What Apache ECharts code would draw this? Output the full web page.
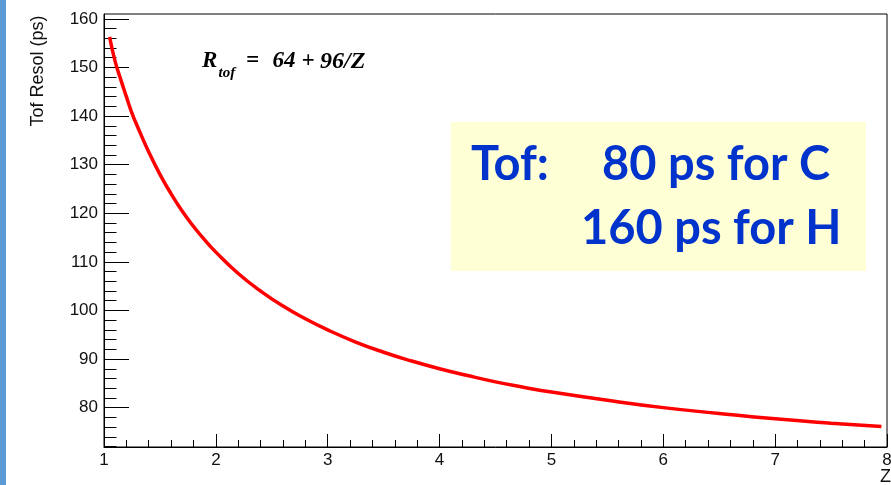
<!DOCTYPE html>
<html>
<head>
<meta charset="utf-8">
<script src="https://cdn.jsdelivr.net/npm/echarts@6/dist/echarts.min.js"></script>
<style>
html,body{margin:0;padding:0;background:#fff;}
#chart{width:891px;height:485px;}
</style>
</head>
<body>
<div id="chart"></div>
<script>
// Values
var zValues   = [1.05, 1.1, 1.15, 1.2, 1.25, 1.3, 1.4, 1.5, 1.6, 1.7, 1.8, 1.9, 2.0, 2.2, 2.4, 2.6, 2.8, 3.0, 3.25, 3.5, 3.75, 4.0, 4.25, 4.5, 4.75, 5.0, 5.5, 6.0, 6.5, 7.0, 7.5, 7.95];
var tofValues = [156.3, 151.2, 147.5, 144.0, 140.6, 137.8, 132.6, 128.0, 124.0, 120.4, 117.3, 114.5, 112.0, 107.6, 104.0, 100.9, 98.3, 96.0, 93.5, 91.4, 89.6, 88.0, 86.6, 85.3, 84.2, 83.2, 81.5, 80.0, 78.8, 77.7, 76.8, 76.1];
var yMajorTicks = [80, 90, 100, 110, 120, 130, 140, 150, 160];
var yMinorTicks = [72, 74, 76, 78, 82, 84, 86, 88, 92, 94, 96, 98, 102, 104, 106, 108, 112, 114, 116, 118, 122, 124, 126, 128, 132, 134, 136, 138, 142, 144, 146, 148, 152, 154, 156, 158];
var yRange = [71.9, 161];
var xRange = [1, 8];
var yTitle = 'Tof Resol (ps)';
var xTitle = 'Z';
var boxLine1a = 'Tof:';
var boxLine1b = '80 ps for C';
var boxLine2 = '160 ps for H';

var lineData = zValues.map(function (z, i) { return [z, tofValues[i]]; });

var chart = echarts.init(document.getElementById('chart'), null, {renderer: 'canvas'});
var sans = 'Liberation Sans, Arial, sans-serif';
var serif = 'Liberation Serif, Times New Roman, serif';
var blue = '#0033cc';

function formulaText(x, y, t, size) {
  return {type: 'text', x: x, y: y,
    style: {text: t, fontFamily: serif, fontSize: size, fontWeight: 'bold', fontStyle: 'italic', fill: '#000', align: 'left', verticalAlign: 'middle'}};
}

var option = {
  animation: false,
  backgroundColor: '#ffffff',
  grid: {
    left: 104, top: 14, width: 783, height: 433,
    show: true, borderColor: '#000', borderWidth: 1,
    containLabel: false, outerBoundsMode: 'none'
  },
  xAxis: {
    type: 'value', min: xRange[0], max: xRange[1], interval: 1,
    axisLine: {show: true, onZero: false, lineStyle: {color: '#000', width: 1}},
    axisTick: {show: true, inside: true, length: 13, lineStyle: {color: '#000', width: 1}},
    minorTick: {show: true, splitNumber: 5, length: 7, lineStyle: {color: '#000', width: 1}},
    axisLabel: {color: '#111', fontFamily: sans, fontSize: 17, margin: 5},
    splitLine: {show: false}, minorSplitLine: {show: false}
  },
  yAxis: [{
    type: 'value', min: yRange[0], max: yRange[1], position: 'left',
    axisLine: {show: true, onZero: false, lineStyle: {color: '#000', width: 1}},
    axisTick: {show: true, inside: true, length: 25, customValues: yMajorTicks, lineStyle: {color: '#000', width: 1}},
    axisLabel: {color: '#111', fontFamily: sans, fontSize: 17, margin: 6, customValues: yMajorTicks},
    splitLine: {show: false}
  }, {
    type: 'value', min: yRange[0], max: yRange[1], position: 'left', offset: 0,
    axisLine: {show: false},
    axisTick: {show: true, inside: true, length: 12.5, customValues: yMinorTicks, lineStyle: {color: '#000', width: 1}},
    axisLabel: {show: false},
    splitLine: {show: false}
  }],
  series: [{
    type: 'line', data: lineData, yAxisIndex: 0, smooth: true, showSymbol: false,
    lineStyle: {color: '#ff0000', width: 3.5}, z: 3
  }],
  graphic: [
    {type: 'rect', shape: {x: 0, y: 0, width: 6, height: 485}, style: {fill: '#5b9bd5'}, z: 10},
    {type: 'text', x: 38, y: 71, rotation: Math.PI / 2,
      style: {text: yTitle, fontFamily: sans, fontSize: 18, fill: '#111', align: 'center', verticalAlign: 'middle'}},
    {type: 'text', x: 891, y: 477,
      style: {text: xTitle, fontFamily: sans, fontSize: 18, fill: '#111', align: 'right', verticalAlign: 'middle'}},
    formulaText(202, 61.5, 'R', 23),
    formulaText(218.5, 73, 'tof', 15),
    formulaText(246, 61.5, '=', 23),
    formulaText(272.5, 61.5, '64', 23),
    formulaText(301.5, 61.5, '+', 23),
    formulaText(320, 61.5, '96/Z', 24),
    {type: 'rect', shape: {x: 451, y: 122, width: 415, height: 149}, style: {fill: '#ffffd5'}, z: 5},
    {type: 'text', x: 471, y: 165, z: 6,
      style: {text: boxLine1a, fontFamily: 'Lato, sans-serif', fontSize: 47, fontWeight: 'bold', fill: blue, align: 'left', verticalAlign: 'middle'}},
    {type: 'text', x: 602, y: 165, z: 6,
      style: {text: boxLine1b, fontFamily: 'Lato, sans-serif', fontSize: 47, fontWeight: 'bold', fill: blue, align: 'left', verticalAlign: 'middle'}},
    {type: 'text', x: 581, y: 228.5, z: 6,
      style: {text: boxLine2, fontFamily: 'Lato, sans-serif', fontSize: 47, fontWeight: 'bold', fill: blue, align: 'left', verticalAlign: 'middle'}}
  ]
};
chart.setOption(option);
</script>
</body>
</html>
